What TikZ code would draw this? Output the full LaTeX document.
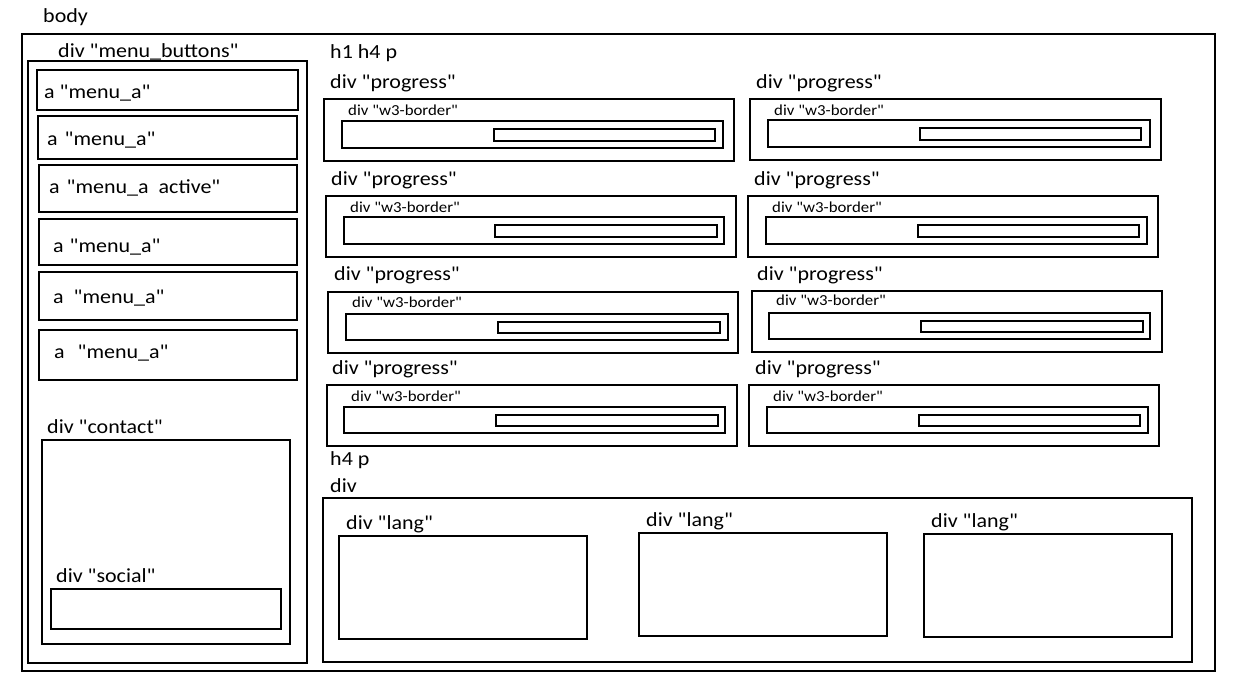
\documentclass[tikz,border=0pt]{standalone}
\usepackage{fontspec}
\newfontfamily\calfont{Carlito}[FakeStretch=1.1]
\usetikzlibrary{fit}
\tikzset{
  box/.style={draw, line width=1.2pt, inner sep=0pt, outer sep=0pt, rectangle},
  lbl/.style={anchor=base west, inner sep=0pt, font=\calfont\fontsize{20}{24}\selectfont},
  slbl/.style={anchor=base west, inner sep=0pt, font=\calfont\fontsize{15.3}{18}\selectfont},
}
\begin{document}
\begin{tikzpicture}[x=1pt,y=-1pt]
\useasboundingbox (0,0) rectangle (1242,696);
% body
\node[lbl] (tbody) at (43,22) {body};
\node[box, fit={(22,34) (1215,671)}] (body) {};
% menu buttons
\node[lbl] (tmenu) at (58,57) {div "menu\_buttons"};
\node[box, fit={(28,61) (307,663)}] (menu) {};
\node[box, fit={(37,70) (298,110)}] (a1) {};
\node[box, fit={(38,116) (297,159)}] (a2) {};
\node[box, fit={(39,165) (297,212)}] (a3) {};
\node[box, fit={(39,219) (297,265)}] (a4) {};
\node[box, fit={(39,272) (297,320)}] (a5) {};
\node[box, fit={(39,330) (297,380)}] (a6) {};
\node[lbl] (ta1) at (44,98) {a\hspace{5pt}"menu\_a"};
\node[lbl] (ta2) at (47,145) {a\hspace{7pt}"menu\_a"};
\node[lbl] (ta3) at (49,193) {a\hspace{7pt}"menu\_a\hspace{10pt}active"};
\node[lbl] (ta4) at (53,252) {a\hspace{6pt}"menu\_a"};
\node[lbl] (ta5) at (53,303) {a\hspace{10pt}"menu\_a"};
\node[lbl] (ta6) at (54,358) {a\hspace{13pt}"menu\_a"};
% contact
\node[lbl] (tcontact) at (47,433) {div "contact"};
\node[box, fit={(42,440) (290,644)}] (contact) {};
\node[lbl] (tsocial) at (56,582) {div "social"};
\node[box, fit={(51,589) (281,629)}] (social) {};
% headings
\node[lbl] (th1) at (330,58) {h1 h4 p};
% progress blocks: left column
\node[lbl] (tp1l) at (330,88) {div "progress"};
\node[box, fit={(324,99) (734,161)}] (p1l) {};
\node[slbl] (tw1l) at (348,115) {div "w3-border"};
\node[box, fit={(342,121) (723,148)}] (w1l) {};
\node[box, fit={(494,129) (715,141)}] (b1l) {};

\node[lbl] (tp2l) at (331,185) {div "progress"};
\node[box, fit={(326,196) (736,257)}] (p2l) {};
\node[slbl] (tw2l) at (350,212) {div "w3-border"};
\node[box, fit={(344,217) (724,244)}] (w2l) {};
\node[box, fit={(495,225) (717,237)}] (b2l) {};

\node[lbl] (tp3l) at (334,280) {div "progress"};
\node[box, fit={(328,292) (738,353)}] (p3l) {};
\node[slbl] (tw3l) at (352,307) {div "w3-border"};
\node[box, fit={(346,314) (728,340)}] (w3l) {};
\node[box, fit={(498,322) (720,333)}] (b3l) {};

\node[lbl] (tp4l) at (332,374) {div "progress"};
\node[box, fit={(327,385) (737,446)}] (p4l) {};
\node[slbl] (tw4l) at (351,401) {div "w3-border"};
\node[box, fit={(344,407) (725,433)}] (w4l) {};
\node[box, fit={(496,415) (718,426)}] (b4l) {};
% progress blocks: right column
\node[lbl] (tp1r) at (756,88) {div "progress"};
\node[box, fit={(750,99) (1161,160)}] (p1r) {};
\node[slbl] (tw1r) at (774,115) {div "w3-border"};
\node[box, fit={(768,120) (1150,147)}] (w1r) {};
\node[box, fit={(920,128) (1141,140)}] (b1r) {};

\node[lbl] (tp2r) at (754,185) {div "progress"};
\node[box, fit={(748,196) (1158,257)}] (p2r) {};
\node[slbl] (tw2r) at (772,212) {div "w3-border"};
\node[box, fit={(766,217) (1147,244)}] (w2r) {};
\node[box, fit={(918,225) (1139,237)}] (b2r) {};

\node[lbl] (tp3r) at (757,280) {div "progress"};
\node[box, fit={(752,291) (1162,352)}] (p3r) {};
\node[slbl] (tw3r) at (776,305) {div "w3-border"};
\node[box, fit={(769,313) (1150,339)}] (w3r) {};
\node[box, fit={(921,321) (1143,332)}] (b3r) {};

\node[lbl] (tp4r) at (755,374) {div "progress"};
\node[box, fit={(749,385) (1159,446)}] (p4r) {};
\node[slbl] (tw4r) at (773,401) {div "w3-border"};
\node[box, fit={(767,407) (1148,433)}] (w4r) {};
\node[box, fit={(919,415) (1140,426)}] (b4r) {};
% bottom
\node[lbl] (th4) at (330,465) {h4 p};
\node[lbl] (tdiv) at (330,492) {div};
\node[box, fit={(323,498) (1192,662)}] (div) {};
\node[lbl] (tl1) at (346,529) {div "lang"};
\node[box, fit={(339,536) (587,639)}] (lang1) {};
\node[lbl] (tl2) at (646,526) {div "lang"};
\node[box, fit={(639,533) (887,636)}] (lang2) {};
\node[lbl] (tl3) at (931,527) {div "lang"};
\node[box, fit={(924,534) (1172,637)}] (lang3) {};
\end{tikzpicture}
\end{document}
